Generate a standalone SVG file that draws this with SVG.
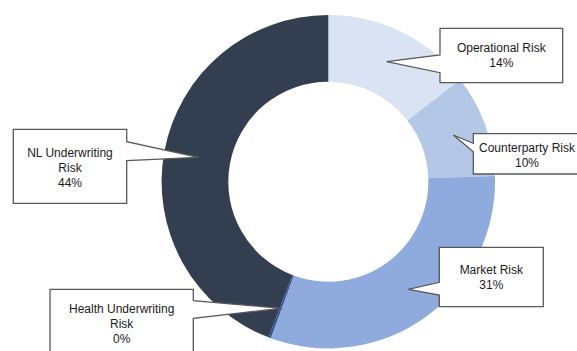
<svg xmlns="http://www.w3.org/2000/svg" width="577" height="351" viewBox="0 0 577 351">
<style>
.lbl{font-family:"Liberation Sans",Arial,sans-serif;font-size:12px;fill:#1a1a1a;text-anchor:middle}
.call{fill:#ffffff;stroke:#595959;stroke-width:1.3;stroke-linejoin:miter}
</style>
<rect width="577" height="351" fill="#ffffff"/>
<g id="ring">
<path id="seg-operational" fill="#dae3f3" d="M328.3,15 A166.7,166.7 0 0 1 460.2,79.8 L407.4,120.55 A100,100 0 0 0 328.3,81.7 Z"/>
<path id="seg-counterparty" fill="#b4c7e7" d="M460.2,79.8 A166.7,166.7 0 0 1 494.9,175.9 L428.24,178.2 A100,100 0 0 0 407.4,120.55 Z"/>
<path id="seg-market" fill="#8faadc" d="M494.9,175.9 A166.7,166.7 0 0 1 270.74,338.15 L293.77,275.55 A100,100 0 0 0 428.24,178.2 Z"/>
<path id="seg-health" fill="#2f5597" d="M270.74,338.15 A166.7,166.7 0 0 1 268.56,337.33 L292.46,275.06 A100,100 0 0 0 293.77,275.55 Z"/>
<path id="seg-nl" fill="#333f50" d="M268.56,337.33 A166.7,166.7 0 0 1 328.3,15 L328.3,81.7 A100,100 0 0 0 292.46,275.06 Z"/>
</g>
<g id="connectors"></g>
<g id="label-operational">
<path class="call" d="M440,28.3 H562.7 V82.7 H440 V72.7 L386.7,61.7 L440,55 Z"/>
<text class="lbl" x="501.3" y="51.7">Operational Risk</text>
<text class="lbl" x="501.3" y="66.7">14%</text>
</g>
<g id="label-counterparty">
<path class="call" d="M473.3,133.7 H584 V174 H473.3 V151.7 L453.3,135 L473.3,143.3 Z"/>
<text class="lbl" x="527" y="151.7">Counterparty Risk</text>
<text class="lbl" x="527" y="166.7">10%</text>
</g>
<g id="label-market">
<path class="call" d="M439.3,247.3 H543.3 V306.7 H439.3 V295 L408.3,289.3 L439.3,282.3 Z"/>
<text class="lbl" x="491.3" y="273.5">Market Risk</text>
<text class="lbl" x="491.3" y="288.5">31%</text>
</g>
<g id="label-nl">
<path class="call" d="M13.3,129.3 H126.7 V141.7 L198.3,157.3 L126.7,160.7 V203.3 H13.3 Z"/>
<text class="lbl" x="70" y="156.7">NL Underwriting</text>
<text class="lbl" x="70" y="171.7">Risk</text>
<text class="lbl" x="70" y="186.7">44%</text>
</g>
<g id="label-health">
<path class="call" d="M50,289.3 H193.3 V300.7 L281.7,308.3 L193.3,318.3 V360 H50 Z"/>
<text class="lbl" x="121.7" y="313.3">Health Underwriting</text>
<text class="lbl" x="121.7" y="328.3">Risk</text>
<text class="lbl" x="121.7" y="343.3">0%</text>
</g>
</svg>
